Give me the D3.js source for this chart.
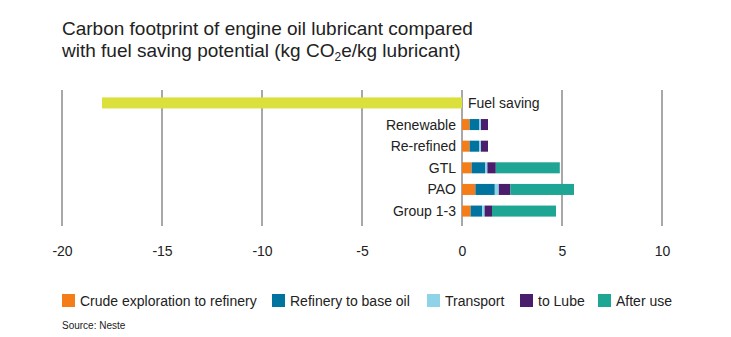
<!DOCTYPE html>
<html><head><meta charset="utf-8">
<script src="https://cdn.jsdelivr.net/npm/d3@7"></script>
<style>body{margin:0;background:#fff;}svg,svg text{font-family:"Liberation Sans",Arial,sans-serif;}</style>
</head><body>
<svg id="c" width="731" height="337"></svg>
<script>
const categories = ["Fuel saving","Renewable","Re-refined","GTL","PAO","Group 1-3"];
const seriesNames = ["Crude exploration to refinery","Refinery to base oil","Transport","to Lube","After use"];
const seriesColors = ["#f47d1a","#00739e","#8fd3e8","#4a1e6c","#1fa593"];
const crude    = [0, 0.38, 0.38, 0.48, 0.67, 0.43];
const refinery = [0, 0.47, 0.47, 0.67, 0.97, 0.58];
const transport= [0, 0.10, 0.10, 0.12, 0.20, 0.12];
const toLube   = [0, 0.35, 0.35, 0.42, 0.58, 0.37];
const afterUse = [0, 0, 0, 3.2, 3.18, 3.2];
const fuelSaving = [-18, 0, 0, 0, 0, 0];
const fuelColor = "#dce03c";
const xTicks = [-20,-15,-10,-5,0,5,10];

const svg = d3.select("#c");
const x = d3.scaleLinear().domain([-20,10]).range([62,662]);
const y = d3.scaleBand().domain(categories).range([92,222]).paddingInner(0.49).paddingOuter(0.25);

// title
const title = svg.append("text").attr("x",62).attr("y",35).attr("fill","#222").style("font-size","19px");
title.append("tspan").attr("x",62).text("Carbon footprint of engine oil lubricant compared");
const t2 = svg.append("text").attr("x",62).attr("y",57).attr("fill","#222").style("font-size","19px");
t2.append("tspan").text("with fuel saving potential (kg CO");
t2.append("tspan").attr("dy",4).style("font-size","12px").text("2");
t2.append("tspan").attr("dy",-4).text("e/kg lubricant)");

// grid
svg.append("g").selectAll("line").data(xTicks).join("line")
  .attr("x1",d=>x(d)).attr("x2",d=>x(d)).attr("y1",90).attr("y2",226)
  .attr("stroke","#a8a8a8").attr("stroke-width",2);

// axis
const axis = d3.axisBottom(x).tickValues(xTicks).tickSize(0).tickPadding(0).tickFormat(d=>String(d));
const ag = svg.append("g").attr("transform","translate(0,246)").call(axis);
ag.attr("font-family",null).attr("font-size",null);
ag.select(".domain").remove();
ag.selectAll("text").style("font-size","14px").attr("fill","#222").attr("dy","0.71em");

// stacked data
const stackData = categories.map((c,i)=>({cat:c, v:[crude[i],refinery[i],transport[i],toLube[i],afterUse[i]]}));
const gBars = svg.append("g");
stackData.forEach(d=>{
  let acc=0;
  d.v.forEach((v,j)=>{
    if(v>0){
      gBars.append("rect").attr("x",x(acc)).attr("width",x(acc+v)-x(acc))
        .attr("y",y(d.cat)).attr("height",y.bandwidth()).attr("fill",seriesColors[j]);
    }
    acc+=v;
  });
});
// fuel saving bar
gBars.selectAll(".fuel").data(categories.map((c,i)=>({cat:c,v:fuelSaving[i]})).filter(d=>d.v<0)).join("rect")
  .attr("x",d=>x(d.v)).attr("width",d=>x(0)-x(d.v)).attr("y",d=>y(d.cat)).attr("height",y.bandwidth()).attr("fill",fuelColor);

// category labels
svg.append("g").selectAll("text").data(categories).join("text")
  .attr("x",d=>d==="Fuel saving"?x(0)+6:x(0)-6)
  .attr("y",d=>y(d)+y.bandwidth()/2).attr("dy","0.36em")
  .attr("text-anchor",d=>d==="Fuel saving"?"start":"end")
  .attr("fill","#222").style("font-size","14px").text(d=>d);

// legend
const legX = [62,272,427,520,598];
const lg = svg.append("g").selectAll("g").data(seriesNames).join("g").attr("transform",(d,i)=>`translate(${legX[i]},294)`);
lg.append("rect").attr("width",13).attr("height",13).attr("fill",(d,i)=>seriesColors[i]);
lg.append("text").attr("x",18).attr("y",11.5).attr("fill","#222").style("font-size","14px").text(d=>d);

svg.append("text").attr("x",62).attr("y",329).attr("fill","#222").style("font-size","10px").text("Source: Neste");
</script>
</body></html>
